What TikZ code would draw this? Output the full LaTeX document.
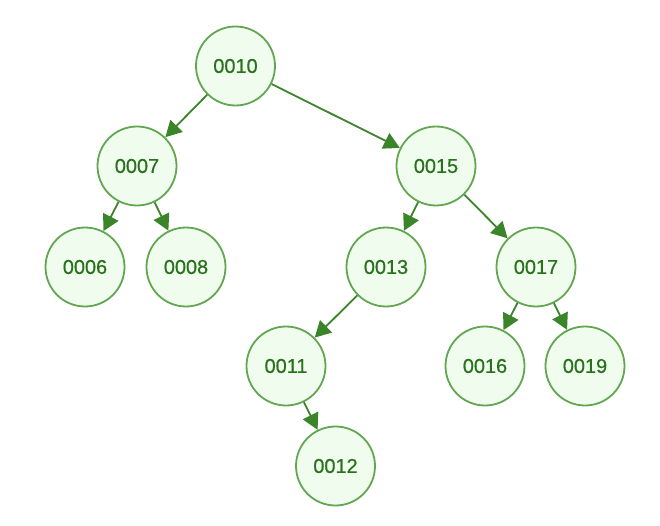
\documentclass[tikz,border=0pt]{standalone}
\usepackage{fontspec}
\setmainfont{Liberation Sans}
\newfontfamily\keyfont{Liberation Sans}[FakeBold=0.6]
\usetikzlibrary{arrows.meta}
\definecolor{nodefill}{RGB}{240,253,238}
\definecolor{nodeline}{RGB}{98,166,82}
\definecolor{edgeline}{RGB}{58,132,42}
\definecolor{labeltext}{RGB}{40,114,28}
\begin{document}
\begin{tikzpicture}[x=1bp,y=-1bp,
  keynode/.style={circle,draw=nodeline,fill=nodefill,line width=1.8bp,
    minimum size=79bp,inner sep=0pt,text=labeltext,
    font=\keyfont\fontsize{20}{22}\selectfont},
  link/.style={draw=edgeline,line width=1.8bp,
    -{Triangle[length=16bp,width=17bp]}}]
\useasboundingbox (0,0) rectangle (660,526);
\node[keynode] (n10) at (235.5,66) {0010};
\node[keynode] (n07) at (137,166) {0007};
\node[keynode] (n15) at (436,166) {0015};
\node[keynode] (n06) at (85,267) {0006};
\node[keynode] (n08) at (186,267) {0008};
\node[keynode] (n13) at (386,267) {0013};
\node[keynode] (n17) at (536,267) {0017};
\node[keynode] (n11) at (286,366) {0011};
\node[keynode] (n16) at (485,366) {0016};
\node[keynode] (n19) at (585,366) {0019};
\node[keynode] (n12) at (335.5,466) {0012};
\draw[link] (n10) -- (n07);
\draw[link] (n10) -- (n15);
\draw[link] (n07) -- (n06);
\draw[link] (n07) -- (n08);
\draw[link] (n15) -- (n13);
\draw[link] (n15) -- (n17);
\draw[link] (n13) -- (n11);
\draw[link] (n17) -- (n16);
\draw[link] (n17) -- (n19);
\draw[link] (n11) -- (n12);
\end{tikzpicture}
\end{document}
